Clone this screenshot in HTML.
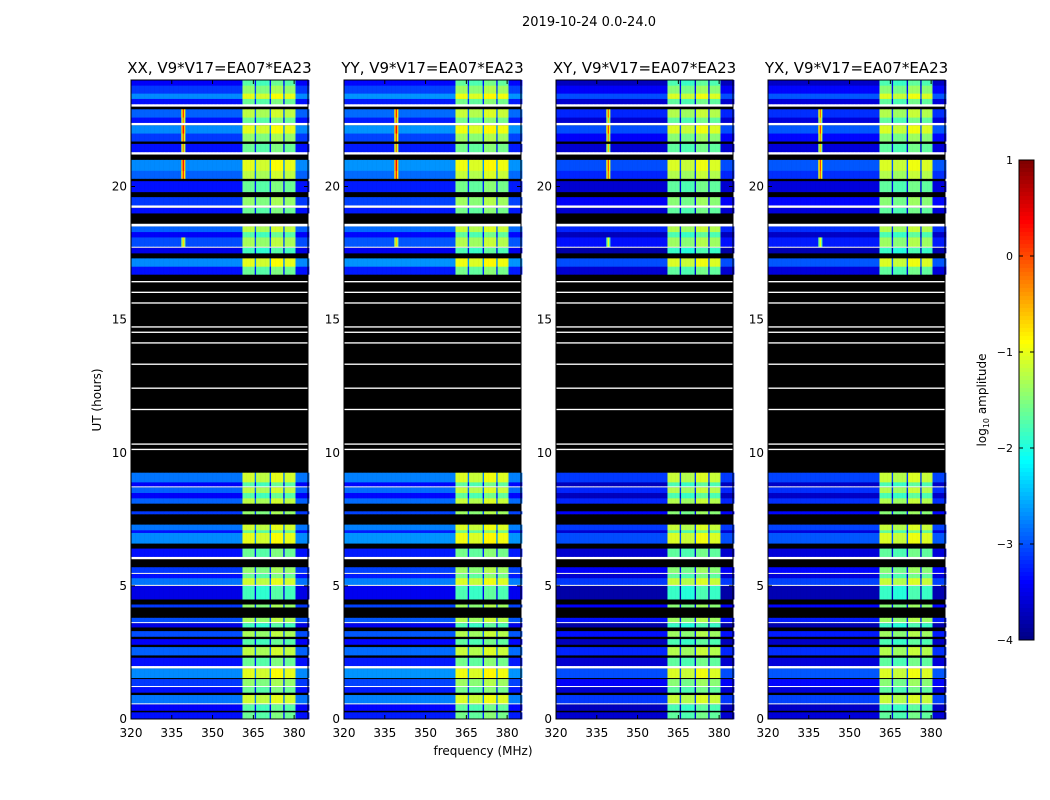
<!DOCTYPE html>
<html><head><meta charset="utf-8"><style>
body{margin:0;background:#fff;font-family:"DejaVu Sans","Liberation Sans",sans-serif;}
#wrap{position:relative;width:1050px;height:800px;}
</style></head><body>
<div id="wrap">
<svg id="svg" width="1050" height="800" style="position:absolute;left:0;top:0"></svg>
</div>
<script>
// ---- data ----
const panelTitles = ["XX, V9*V17=EA07*EA23","YY, V9*V17=EA07*EA23","XY, V9*V17=EA07*EA23","YX, V9*V17=EA07*EA23"];
const panelOffset = [-0.5, -0.45, -0.8, -0.75];
const panelBandExtra = [0, 0, 0.25, 0.2];
const rowStart = [0,0.25,0.32,0.55,0.6,0.9,1.0,1.2,1.25,1.5,1.55,1.9,2.0,2.3,2.4,2.7,2.8,3.0,3.1,3.3,3.45,3.6,3.65,3.8,4.2,4.3,4.5,5.0,5.05,5.3,5.45,5.5,5.7,6.0,6.1,6.4,6.6,7.0,7.1,7.3,7.7,7.8,8.1,8.3,8.5,8.7,8.75,8.9,9.25,10.1,10.15,10.3,10.35,11.6,11.65,12.4,12.45,13.3,13.35,14.1,14.15,14.5,14.55,14.7,14.75,15.6,15.65,16.0,16.05,16.4,16.45,16.7,17.0,17.3,17.5,17.7,17.75,18.1,18.3,18.5,18.6,19.0,19.2,19.3,19.6,19.8,20.2,20.3,20.6,21.0,21.2,21.3,21.6,21.7,22.0,22.3,22.4,22.6,22.9,23.0,23.1,23.3,23.5,23.8];
const rowEnd = rowStart.slice(1).concat([24]);
const rowLevel = [-2.8,'k',-2.9,'w',-2.3,'k',-2.8,'w',-2.6,'k',-2.2,'w',-2.8,'k',-2.4,'k',-2.9,'k',-2.5,'k',-3.0,'w',-2.5,'k',-2.6,'k',-3.0,'w',-2.3,-2.8,'w',-2.6,'k','w',-2.8,'k',-2.2,-2.8,-2.3,'k',-2.6,'k',-2.4,-2.9,-2.4,'w',-2.9,-2.3,'k','w','k','w','k','w','k','w','k','w','k','w','k','w','k','w','k','w','k','w','k','w','k',-2.8,-2.2,'k',-3.0,'w',-2.5,-2.9,-2.4,'w','k',-2.8,'w',-2.6,'k',-2.8,'k',-2.4,-2.2,'k','w',-2.8,'k',-2.6,-2.2,'w',-2.8,-2.4,'k','w',-2.8,-2.2,-2.6,-2.9];
const bandLo = [361,366,371.5,376.5];
const bandHi = [365.5,371,376,380.5];
const bandBoost = [1.7,1.6,1.8,1.7];
const rfiFreq = [339,339,339];
const rfiT0 = [17.75,20.3,21.3];
const rfiT1 = [18.1,21.0,22.9];
const rfiAmp = [2.3,3.0,3.0];
const xTicks = [320,335,350,365,380];
const yTicks = [0,5,10,15,20];
const cbTicks = [1,0,-1,-2,-3,-4];
const cbLabels = ["1","0","\u22121","\u22122","\u22123","\u22124"];

// ---- layout ----
const NS="http://www.w3.org/2000/svg";
const svg=document.getElementById('svg');
const PX=[131,344,556,768], PW=177, PT=80, PB=719;
const fMin=320, fMax=385.1;
function xs(p,f){return PX[p]+(f-fMin)/(fMax-fMin)*PW;}
function ys(h){return PB-h/24*(PB-PT);}
function jet(v){
 let t=Math.max(0,Math.min(1,(v+4)/5));
 const r=Math.max(0,Math.min(1,1.5-Math.abs(4*t-3)));
 const g=Math.max(0,Math.min(1,1.5-Math.abs(4*t-2)));
 const b=Math.max(0,Math.min(1,1.5-Math.abs(4*t-1)));
 return `rgb(${Math.round(r*255)},${Math.round(g*255)},${Math.round(b*255)})`;}
function el(tag,attrs,parent){const e=document.createElementNS(NS,tag);for(const k in attrs)e.setAttribute(k,attrs[k]);(parent||svg).appendChild(e);return e;}
function txt(x,y,s,size,anchor,name,parent){const t=el('text',{x:x,y:y,'font-size':size,'text-anchor':anchor||'middle','font-family':'DejaVu Sans, Liberation Sans, sans-serif',fill:'#000'},parent);t.textContent=s;return t;}
function colVal(f,p){let v=0;for(let i=0;i<bandLo.length;i++){if(f>=bandLo[i]&&f<bandHi[i])v=bandBoost[i]+panelBandExtra[p];}return v;}

txt(589,26,"2019-10-24 0.0-24.0",13,'middle','figure-title');

const chans=[];for(let f=fMin;f<fMax;f+=0.5)chans.push(f);
for(let p=0;p<4;p++){
 const g=el('g',{});
 el('rect',{x:PX[p],y:PT,width:PW,height:PB-PT,fill:'#000'},g);
 for(let r=0;r<rowStart.length;r++){
  const y0=ys(rowEnd[r]), y1=ys(rowStart[r]);
  const lv=rowLevel[r];
  if(lv==='k')continue;
  if(lv==='w'){const c=el('rect',{x:PX[p],y:y0,width:PW,height:Math.max(1.2,y1-y0),fill:'#fff'},g);continue;}
  for(let ci=0;ci<chans.length;ci++){
   const f=chans[ci];
   let v=lv+panelOffset[p]+colVal(f,p);
   for(let k=0;k<rfiFreq.length;k++){if(Math.abs(f-rfiFreq[k])<0.6&&rowStart[r]>=rfiT0[k]&&rowEnd[r]<=rfiT1[k]+0.01)v+=rfiAmp[k]*(Math.abs(f-rfiFreq[k])<0.3?1:0.7);}
   const x0=xs(p,f), x1=xs(p,f+0.5);
   const c=el('rect',{x:x0,y:y0,width:x1-x0+0.3,height:y1-y0+0.3,fill:jet(v)},g);
   
   
  }
 }
 el('rect',{x:PX[p],y:PT,width:PW,height:PB-PT,fill:'none',stroke:'#000','stroke-width':1},g);
 txt(PX[p]+PW/2,73,panelTitles[p],15,'middle','panel-title-'+(p+1));
 for(const t of xTicks){const x=xs(p,t);el('line',{x1:x,x2:x,y1:PB,y2:PB-4,stroke:'#000'},g);el('line',{x1:x,x2:x,y1:PT,y2:PT+4,stroke:'#000'},g);txt(x,737,String(t),12,'middle','x-tick-label');}
 for(const t of yTicks){const y=ys(t);el('line',{x1:PX[p],x2:PX[p]+4,y1:y,y2:y,stroke:'#000'},g);el('line',{x1:PX[p]+PW,x2:PX[p]+PW-4,y1:y,y2:y,stroke:'#000'},g);txt(PX[p]-4,y+4,String(t),12,'end','y-tick-label');}
}
txt(483,755,"frequency (MHz)",12,'middle','x-axis-title');
const yt=txt(101,400,"UT (hours)",12,'middle','y-axis-title');yt.setAttribute('transform','rotate(-90 101 400)');

const CBX=1019,CBW=15,CBT=160,CBB=640;
const cb=el('g',{});
for(let i=0;i<120;i++){const v=1-i*5/120;el('rect',{x:CBX,y:CBT+i*4,width:CBW,height:4.3,fill:jet(v)},cb);}
el('rect',{x:CBX,y:CBT,width:CBW,height:CBB-CBT,fill:'none',stroke:'#000'},cb);
for(let i=0;i<cbTicks.length;i++){const y=CBT+(1-cbTicks[i])/5*(CBB-CBT);el('line',{x1:CBX,x2:CBX+4,y1:y,y2:y,stroke:'#000'},cb);el('line',{x1:CBX+CBW,x2:CBX+CBW-4,y1:y,y2:y,stroke:'#000'},cb);txt(CBX-6,y+4,cbLabels[i],11,'end','colorbar-tick-label',cb);}
const cl=el('text',{x:986,y:400,'font-size':12,'text-anchor':'middle','font-family':'DejaVu Sans, sans-serif',transform:'rotate(-90 986 400)'},cb);

cl.innerHTML='log<tspan font-size="8" dy="3">10</tspan><tspan dy="-3"> amplitude</tspan>';
</script>
</body></html>
